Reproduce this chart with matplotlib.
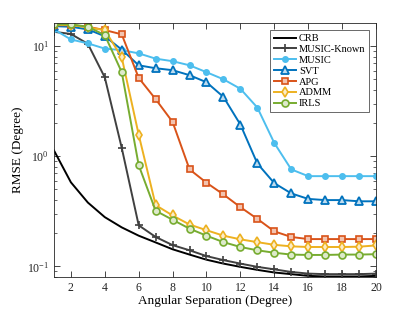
import matplotlib
matplotlib.use("Agg")
import matplotlib.pyplot as plt
import numpy as np

plt.rcParams['font.family'] = ['Liberation Serif', 'DejaVu Serif']
plt.rcParams['mathtext.fontset'] = 'stix'

x = list(range(1, 21))
crb = [1.13, 0.58, 0.38, 0.28, 0.226, 0.19, 0.165, 0.143, 0.128, 0.115,
       0.106, 0.099, 0.093, 0.088, 0.085, 0.082, 0.081, 0.081, 0.081, 0.082]
music_known = [13.5, 12.9, 10.5, 5.2, 1.19, 0.236, 0.185, 0.156, 0.14, 0.124,
               0.114, 0.106, 0.099, 0.094, 0.089, 0.086, 0.085, 0.085, 0.085, 0.086]
music = [14.2, 11.5, 10.6, 9.5, 9.2, 8.6, 7.7, 7.3, 6.7, 5.8,
         5.0, 4.1, 2.77, 1.32, 0.76, 0.66, 0.66, 0.66, 0.66, 0.66]
svt = [15.2, 15.0, 14.2, 12.3, 9.3, 6.7, 6.3, 6.05, 5.45, 4.7,
       3.46, 1.94, 0.86, 0.57, 0.46, 0.41, 0.40, 0.40, 0.39, 0.39]
apg = [15.5, 15.5, 15.0, 14.0, 12.8, 5.15, 3.3, 2.05, 0.76, 0.575,
       0.45, 0.345, 0.27, 0.208, 0.185, 0.177, 0.177, 0.177, 0.177, 0.177]
admm = [15.6, 15.6, 14.8, 14.0, 7.9, 1.57, 0.36, 0.29, 0.24, 0.213,
        0.19, 0.176, 0.166, 0.157, 0.152, 0.15, 0.15, 0.15, 0.151, 0.155]
irls = [15.8, 15.8, 15.0, 12.6, 5.8, 0.83, 0.32, 0.265, 0.22, 0.19,
        0.166, 0.15, 0.14, 0.133, 0.128, 0.127, 0.127, 0.128, 0.128, 0.129]

fig = plt.figure(figsize=(4.15, 3.12), dpi=100)
ax = fig.add_axes([0.130, 0.112, 0.776, 0.814])

lw = 1.4
def light(c, a=0.25):
    import matplotlib.colors as mc
    r, g, b = mc.to_rgb(c)
    return (1 - a + a * r, 1 - a + a * g, 1 - a + a * b)

ax.plot(x, crb, color='black', lw=lw, label='CRB')
ax.plot(x, music_known, color='#404040', lw=lw, marker='+', ms=5.5, mew=1.2, label='MUSIC-Known')
ax.plot(x, music, color='#4DBEEE', lw=lw, marker='o', ms=4, mfc='#4DBEEE', mec='#4DBEEE', label='MUSIC')
ax.plot(x, svt, color='#0072BD', lw=lw, marker='^', ms=5.5, mfc=light('#0072BD'), mec='#0072BD', mew=1.3, label='SVT')
ax.plot(x, apg, color='#D95319', lw=lw, marker='s', ms=4.5, mfc=light('#D95319', 0.35), mec='#D95319', mew=1.2, label='APG')
ax.plot(x, admm, color='#EDB120', lw=lw, marker='d', ms=5.5, mfc=light('#EDB120'), mec='#EDB120', mew=1.2, label='ADMM')
ax.plot(x, irls, color='#77AC30', lw=lw, marker='o', ms=5, mfc=light('#77AC30'), mec='#77AC30', mew=1.2, label='IRLS')

ax.set_yscale('log')
ax.set_xlim(1, 20)
ax.set_ylim(0.08, 16.2)
ax.set_xticks([2, 4, 6, 8, 10, 12, 14, 16, 18, 20])
ax.tick_params(which='both', direction='in', top=True, right=True, labelsize=8.5, colors='#262626')
ax.tick_params(which='major', length=4, width=0.6)
ax.tick_params(which='minor', length=2, width=0.5)
for s in ax.spines.values():
    s.set_color('#262626')
    s.set_linewidth(0.6)
ax.set_xlabel('Angular Separation (Degree)', fontsize=9.5, labelpad=1)
ax.set_ylabel('RMSE (Degree)', fontsize=9.5, labelpad=2)

leg = ax.legend(loc='upper right', bbox_to_anchor=(0.985, 0.98), fontsize=7.5, frameon=True, fancybox=False,
                edgecolor='#262626', handlelength=2.1, borderpad=0.35, labelspacing=0.15, handletextpad=0.3,
                borderaxespad=0.2)
leg.get_frame().set_linewidth(0.6)

fig.savefig('out.png', dpi=100)
